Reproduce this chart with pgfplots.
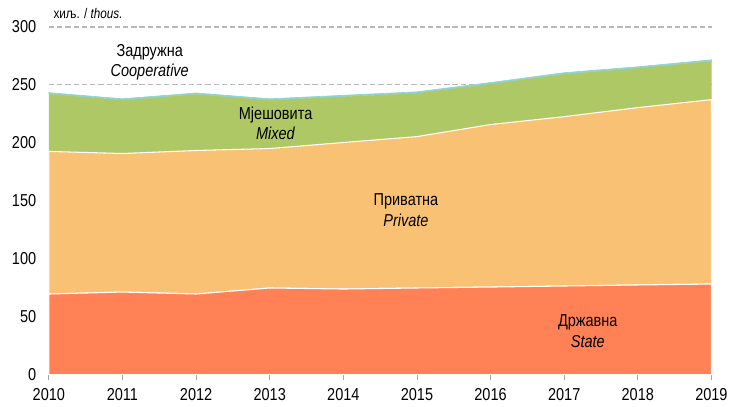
\documentclass[border=0pt]{standalone}
\usepackage{fontspec}
\setmainfont{Liberation Sans}[FakeStretch=0.84]
\usepackage{pgfplots}
\pgfplotsset{compat=1.18}
\definecolor{cstate}{HTML}{FF8155}
\definecolor{cprivate}{HTML}{F9C173}
\definecolor{cmixed}{HTML}{AEC866}
\definecolor{ccoop}{HTML}{8ED3D4}
\begin{document}
\begin{tikzpicture}
\begin{axis}[
  scale only axis,
  width=498.75pt, height=261.75pt,
  xmin=2010, xmax=2019, ymin=0, ymax=300,
  xtick={2010,...,2019}, ytick={0,50,...,300},
  /pgf/number format/1000 sep={},
  /pgf/number format/assume math mode=true,
  tick label style={font=\fontsize{13}{15}\selectfont},
  yticklabel style={xshift=-6pt},
  xticklabel style={yshift=-3pt},
  axis x line*=bottom, axis y line*=left,
  y axis line style={draw=none},
  x axis line style={draw=gray!70},
  xtick style={draw=gray!70, line width=0.6pt},
  ytick style={draw=none},
  xtick align=outside, major tick length=4pt,
  ymajorgrids,
  major grid style={draw=gray!55, line width=0.9pt, dash pattern=on 4pt off 2.2pt},
  stack plots=y,
  clip=false,
  every axis plot/.append style={line width=0.8pt},
]
\addplot[fill=cstate, draw=white] coordinates {(2010,69.6)(2011,71.3)(2012,69.6)(2013,74.8)(2014,73.9)(2015,74.8)(2016,75.6)(2017,76.5)(2018,77.4)(2019,78.2)} \closedcycle;
\addplot[fill=cprivate, draw=white] coordinates {(2010,123.0)(2011,119.5)(2012,123.8)(2013,120.3)(2014,126.4)(2015,130.6)(2016,140.2)(2017,146.1)(2018,153.0)(2019,159.1)} \closedcycle;
\addplot[fill=cmixed, draw=none] coordinates {(2010,49.5)(2011,46.0)(2012,48.4)(2013,41.7)(2014,39.5)(2015,37.4)(2016,35.0)(2017,36.7)(2018,34.0)(2019,33.1)} \closedcycle;
\addplot[fill=ccoop, draw=ccoop, line width=0.5pt] coordinates {(2010,1.2)(2011,1.2)(2012,1.2)(2013,1.2)(2014,1.2)(2015,1.2)(2016,1.2)(2017,1.2)(2018,1.2)(2019,1.2)} \closedcycle;
\path (rel axis cs:-0.0737,-0.0917) rectangle (rel axis cs:1.0271,1.0774);
\coordinate (lu) at (rel axis cs:0.0,1.038);
\coordinate (lc) at (axis cs:2011.37,269.5);
\coordinate (lm) at (axis cs:2013.08,217);
\coordinate (lp) at (axis cs:2014.85,142);
\coordinate (ls) at (axis cs:2017.32,37.8);
\end{axis}
\node[anchor=west, font=\fontsize{10.5}{12}\selectfont] at (lu) {хиљ. / \textit{thous.}};
\node[align=center, font=\fontsize{13}{15.5}\selectfont] at (lc) {Задружна\\\textit{Cooperative}};
\node[align=center, font=\fontsize{13}{15.5}\selectfont] at (lm) {Мјешовита\\\textit{Mixed}};
\node[align=center, font=\fontsize{13}{15.5}\selectfont] at (lp) {Приватна\\\textit{Private}};
\node[align=center, font=\fontsize{13}{15.5}\selectfont] at (ls) {Државна\\\textit{State}};
\end{tikzpicture}
\end{document}
